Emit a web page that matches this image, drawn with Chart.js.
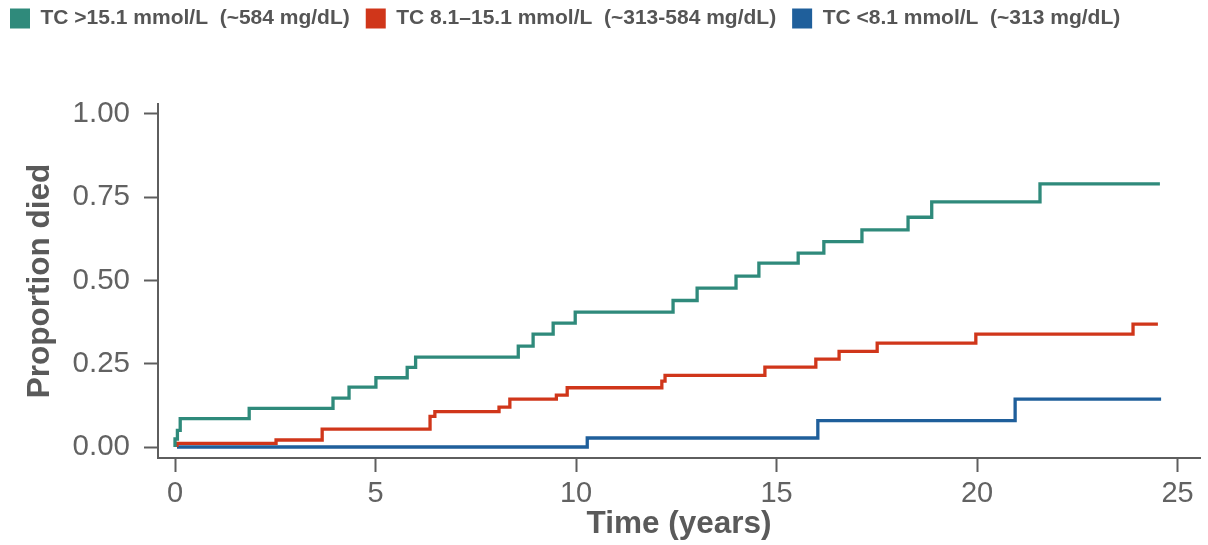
<!DOCTYPE html>
<html><head><meta charset="utf-8">
<script src="https://cdn.jsdelivr.net/npm/chart.js@4.4.1/dist/chart.umd.min.js"></script>
<style>html,body{margin:0;padding:0;background:#fff}#wrap{width:1208px;height:545px}</style>
</head><body><div id="wrap"><canvas id="c" width="1208" height="545"></canvas></div>
<script>
const seriesLabels = ['TC >15.1 mmol/L  (~584 mg/dL)', 'TC 8.1\u201315.1 mmol/L  (~313-584 mg/dL)', 'TC <8.1 mmol/L  (~313 mg/dL)'];
const seriesColors = ['#2f8a7b', '#d0361a', '#1f5f9b'];

const tealTimes  = [0, 0, 0.06, 0.13, 1.85, 3.94, 4.34, 5.01, 5.79, 6.0, 8.56, 8.93, 9.43, 9.98, 12.42, 13.02, 13.99, 14.56, 15.54, 16.18, 17.13, 18.28, 18.87, 21.57, 24.56];
const tealValues = [0, 0.024, 0.05, 0.085, 0.116, 0.147, 0.18, 0.208, 0.239, 0.27, 0.303, 0.339, 0.372, 0.405, 0.44, 0.477, 0.513, 0.552, 0.582, 0.617, 0.652, 0.69, 0.736, 0.79, 0.79];

const redTimes  = [0.05, 0.05, 2.52, 3.67, 6.36, 6.48, 8.08, 8.35, 9.51, 9.78, 12.14, 12.22, 14.71, 15.98, 16.56, 17.51, 19.97, 23.89, 24.51];
const redValues = [0, 0.011, 0.021, 0.054, 0.092, 0.106, 0.12, 0.144, 0.156, 0.178, 0.198, 0.215, 0.24, 0.264, 0.287, 0.312, 0.339, 0.369, 0.369];

const blueTimes  = [0.05, 10.28, 16.03, 20.95, 24.59];
const blueValues = [0, 0.027, 0.079, 0.144, 0.144];

const xTickValues = [0, 5, 10, 15, 20, 25];
const yTickValues = [0, 0.25, 0.5, 0.75, 1.0];

function pts(ts, vs) { return ts.map((t, i) => ({ x: t, y: vs[i] })); }
const allSeries = [pts(tealTimes, tealValues), pts(redTimes, redValues), pts(blueTimes, blueValues)];

const axisColor = '#5e5e5e';
const textColor = '#626262';
const fam = 'Liberation Sans, Arial, sans-serif';

const legendHeightPlugin = {
  id: 'legendHeight',
  beforeInit(chart) {
    const orig = chart.legend.fit;
    chart.legend.fit = function () { orig.bind(chart.legend)(); this.height = 112; };
  }
};

new Chart(document.getElementById('c'), {
  type: 'line',
  data: {
    datasets: allSeries.map((d, i) => ({
      label: seriesLabels[i],
      data: d,
      borderColor: seriesColors[i],
      backgroundColor: seriesColors[i],
      borderWidth: 3.3,
      pointRadius: 0,
      stepped: 'before',
      fill: false
    }))
  },
  options: {
    responsive: false,
    animation: false,
    layout: { padding: { right: 8, left: -6, top: -8, bottom: 0 } },
    plugins: {
      legend: {
        position: 'top', align: 'start',
        labels: {
          boxWidth: 20, boxHeight: 20, padding: 16, color: '#555',
          font: { family: fam, size: 21, weight: 'bold' },
          generateLabels(chart) {
            return chart.data.datasets.map((ds, i) => ({
              text: ds.label, fillStyle: seriesColors[i], strokeStyle: seriesColors[i],
              lineWidth: 0, hidden: false, datasetIndex: i, fontColor: '#555'
            }));
          }
        }
      },
      tooltip: { enabled: false }
    },
    scales: {
      x: {
        type: 'linear', min: -0.424, max: 25.56,
        afterBuildTicks(s) { s.ticks = xTickValues.map(v => ({ value: v })); },
        afterFit(s) { s.height = 87; },
        grid: { drawOnChartArea: false, drawTicks: true, tickLength: 14, tickWidth: 2, tickColor: axisColor },
        border: { display: true, color: axisColor, width: 2 },
        ticks: { color: textColor, padding: 5, font: { family: fam, size: 29 }, maxRotation: 0, callback: v => String(v) },
        title: { display: true, text: 'Time (years)', color: '#5a5a5a', padding: { bottom: 2, top: 0 },
                 font: { family: fam, size: 31.5, weight: 'bold' } }
      },
      y: {
        type: 'linear', min: -0.033, max: 1.03,
        afterBuildTicks(s) { s.ticks = yTickValues.map(v => ({ value: v })); },
        afterFit(s) { s.width = 164; },
        grid: { drawOnChartArea: false, drawTicks: true, tickLength: 14, tickWidth: 2, tickColor: axisColor },
        border: { display: true, color: axisColor, width: 2 },
        ticks: { color: textColor, padding: 14, font: { family: fam, size: 29.5 }, callback: v => Number(v).toFixed(2) },
        title: { display: true, text: 'Proportion died', color: '#5a5a5a', padding: { top: 27, bottom: 0 },
                 font: { family: fam, size: 31.5, weight: 'bold' } }
      }
    }
  },
  plugins: [legendHeightPlugin]
});
</script>
</body></html>
